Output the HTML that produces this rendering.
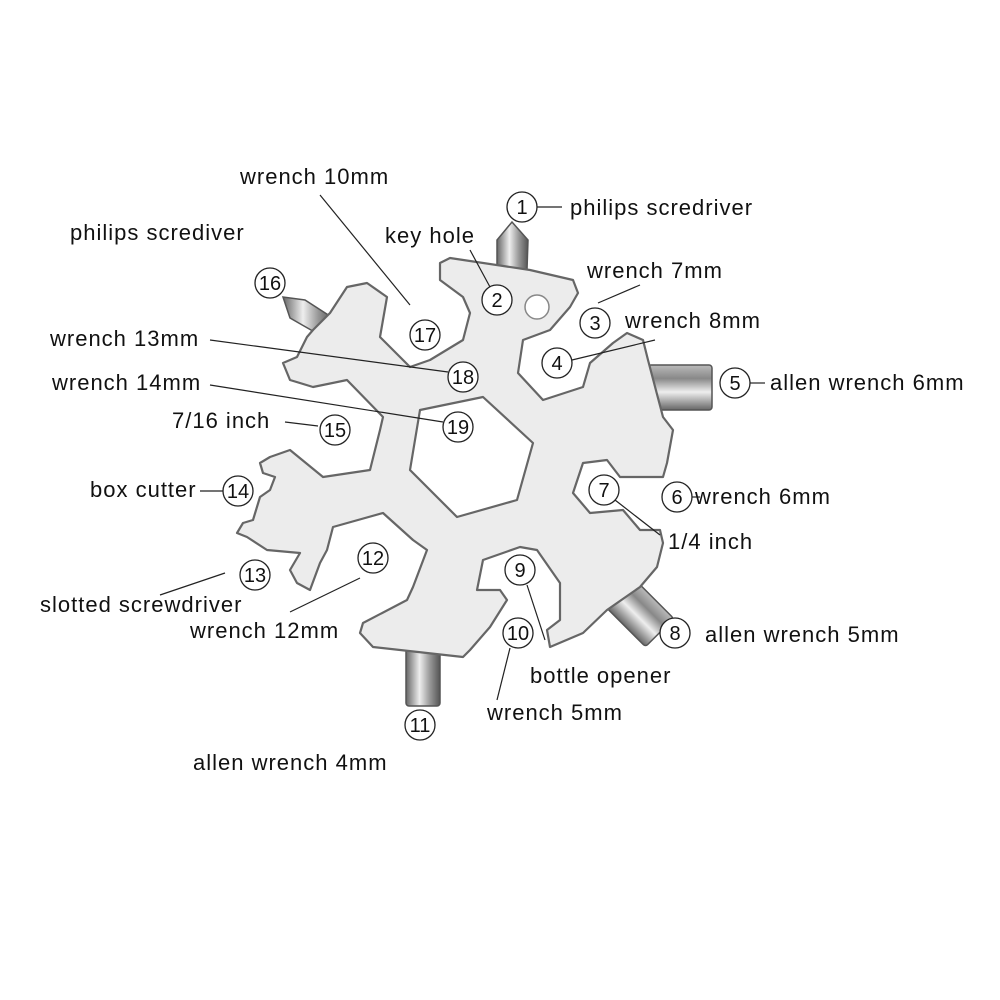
<!DOCTYPE html>
<html><head><meta charset="utf-8"><style>
html,body{margin:0;padding:0;background:#fff;}
svg{display:block;}
text{font-family:"Liberation Sans",sans-serif;font-size:22px;letter-spacing:1px;fill:#111;}
.n{font-size:20px;letter-spacing:0;text-anchor:middle;}
.l{stroke:#222;stroke-width:1.2;fill:none;}
.c{fill:#fff;stroke:#222;stroke-width:1.3;}
</style></head><body>
<svg width="1000" height="1000" viewBox="0 0 1000 1000">
<defs>
<linearGradient id="b" x1="0" y1="0" x2="0" y2="1">
<stop offset="0" stop-color="#bbb"/><stop offset="0.3" stop-color="#888"/><stop offset="0.6" stop-color="#eee"/><stop offset="1" stop-color="#666"/>
</linearGradient>
<linearGradient id="bv" x1="0" y1="0" x2="1" y2="0">
<stop offset="0" stop-color="#666"/><stop offset="0.4" stop-color="#eee"/><stop offset="0.7" stop-color="#999"/><stop offset="1" stop-color="#555"/>
</linearGradient>
</defs>
<!-- bits -->
<g stroke="#555" stroke-width="1.5">
<polygon points="497,270 497,240 512,222 528,240 527,270" fill="url(#bv)"/>
<polygon points="318,334 290,318 283,297 305,300 333,318" fill="url(#bv)"/>
<rect x="648" y="365" width="64" height="45" rx="3" fill="url(#b)"/>
<g transform="translate(637,610) rotate(45)"><rect x="-40" y="-20" width="72" height="40" rx="3" fill="url(#b)"/></g>
<rect x="406" y="640" width="34" height="66" rx="3" fill="url(#bv)"/>
</g>
<!-- body -->
<path fill="#ececec" stroke="#666" stroke-width="2.2" stroke-linejoin="round" fill-rule="evenodd" d="
M440,263 L450,258 L530,270 L573,280 L578,293 L570,307 L550,330 L523,340 L518,373 L543,400 L583,387 L590,363
L613,343 L627,333 L643,340 L648,360 L663,417 L673,430 L667,463 L663,477 L620,477 L607,460 L583,463 L573,493
L590,513 L623,510 L640,530 L660,530 L663,543 L657,567 L640,587 L607,610 L583,633 L550,647 L547,630 L560,620
L560,583 L537,550 L520,547 L483,560 L477,590 L500,590 L507,600 L490,627 L470,650 L463,657 L373,647 L360,633
L363,623 L407,600 L413,587 L427,550 L413,540 L383,513 L333,527 L327,550 L320,563 L310,590 L297,583 L290,570
L300,553 L267,550 L247,537 L237,533 L243,523 L253,520 L260,497 L270,490 L275,477 L263,473 L260,463 L270,457
L290,450 L323,477 L370,470 L380,430 L383,417 L347,380 L313,387 L290,380 L283,363 L297,357 L307,337 L313,330
L330,313 L347,287 L367,283 L387,297 L380,337 L410,367 L430,360 L463,340 L470,313 L463,297 L440,280 Z
M420,410 L483,397 L533,443 L517,500 L457,517 L410,470 Z"/>
<circle cx="537" cy="307" r="12" fill="#fff" stroke="#888" stroke-width="1.5"/>
<!-- leader lines -->
<g class="l">
<line x1="320" y1="195" x2="410" y2="305"/>
<line x1="537" y1="207" x2="562" y2="207"/>
<line x1="470" y1="250" x2="490" y2="287"/>
<line x1="640" y1="285" x2="598" y2="303"/>
<line x1="572" y1="360" x2="655" y2="340"/>
<line x1="750" y1="383" x2="765" y2="383"/>
<line x1="210" y1="340" x2="448" y2="372"/>
<line x1="210" y1="385" x2="443" y2="422"/>
<line x1="285" y1="422" x2="318" y2="426"/>
<line x1="692" y1="497" x2="700" y2="497"/>
<line x1="615" y1="500" x2="660" y2="535"/>
<line x1="200" y1="491" x2="223" y2="491"/>
<line x1="360" y1="578" x2="290" y2="612"/>
<line x1="225" y1="573" x2="160" y2="595"/>
<line x1="527" y1="585" x2="545" y2="640"/>
<line x1="510" y1="648" x2="497" y2="700"/>
</g>
<!-- circled numbers -->
<g>
<circle class="c" cx="522" cy="207" r="15"/><text class="n" x="522" y="214">1</text>
<circle class="c" cx="497" cy="300" r="15"/><text class="n" x="497" y="307">2</text>
<circle class="c" cx="595" cy="323" r="15"/><text class="n" x="595" y="330">3</text>
<circle class="c" cx="557" cy="363" r="15"/><text class="n" x="557" y="370">4</text>
<circle class="c" cx="735" cy="383" r="15"/><text class="n" x="735" y="390">5</text>
<circle class="c" cx="677" cy="497" r="15"/><text class="n" x="677" y="504">6</text>
<circle class="c" cx="604" cy="490" r="15"/><text class="n" x="604" y="497">7</text>
<circle class="c" cx="675" cy="633" r="15"/><text class="n" x="675" y="640">8</text>
<circle class="c" cx="520" cy="570" r="15"/><text class="n" x="520" y="577">9</text>
<circle class="c" cx="518" cy="633" r="15"/><text class="n" x="518" y="640">10</text>
<circle class="c" cx="420" cy="725" r="15"/><text class="n" x="420" y="732">11</text>
<circle class="c" cx="373" cy="558" r="15"/><text class="n" x="373" y="565">12</text>
<circle class="c" cx="255" cy="575" r="15"/><text class="n" x="255" y="582">13</text>
<circle class="c" cx="238" cy="491" r="15"/><text class="n" x="238" y="498">14</text>
<circle class="c" cx="335" cy="430" r="15"/><text class="n" x="335" y="437">15</text>
<circle class="c" cx="270" cy="283" r="15"/><text class="n" x="270" y="290">16</text>
<circle class="c" cx="425" cy="335" r="15"/><text class="n" x="425" y="342">17</text>
<circle class="c" cx="463" cy="377" r="15"/><text class="n" x="463" y="384">18</text>
<circle class="c" cx="458" cy="427" r="15"/><text class="n" x="458" y="434">19</text>
</g>
<!-- labels -->
<text x="240" y="184">wrench 10mm</text>
<text x="570" y="215">philips scredriver</text>
<text x="70" y="240">philips scrediver</text>
<text x="385" y="243">key hole</text>
<text x="587" y="278">wrench 7mm</text>
<text x="625" y="328">wrench 8mm</text>
<text x="770" y="390">allen wrench 6mm</text>
<text x="50" y="346">wrench 13mm</text>
<text x="52" y="390">wrench 14mm</text>
<text x="172" y="428">7/16 inch</text>
<text x="695" y="504">wrench 6mm</text>
<text x="668" y="549">1/4 inch</text>
<text x="90" y="497">box cutter</text>
<text x="40" y="612">slotted screwdriver</text>
<text x="190" y="638">wrench 12mm</text>
<text x="705" y="642">allen wrench 5mm</text>
<text x="530" y="683">bottle opener</text>
<text x="487" y="720">wrench 5mm</text>
<text x="193" y="770">allen wrench 4mm</text>
</svg>
</body></html>
